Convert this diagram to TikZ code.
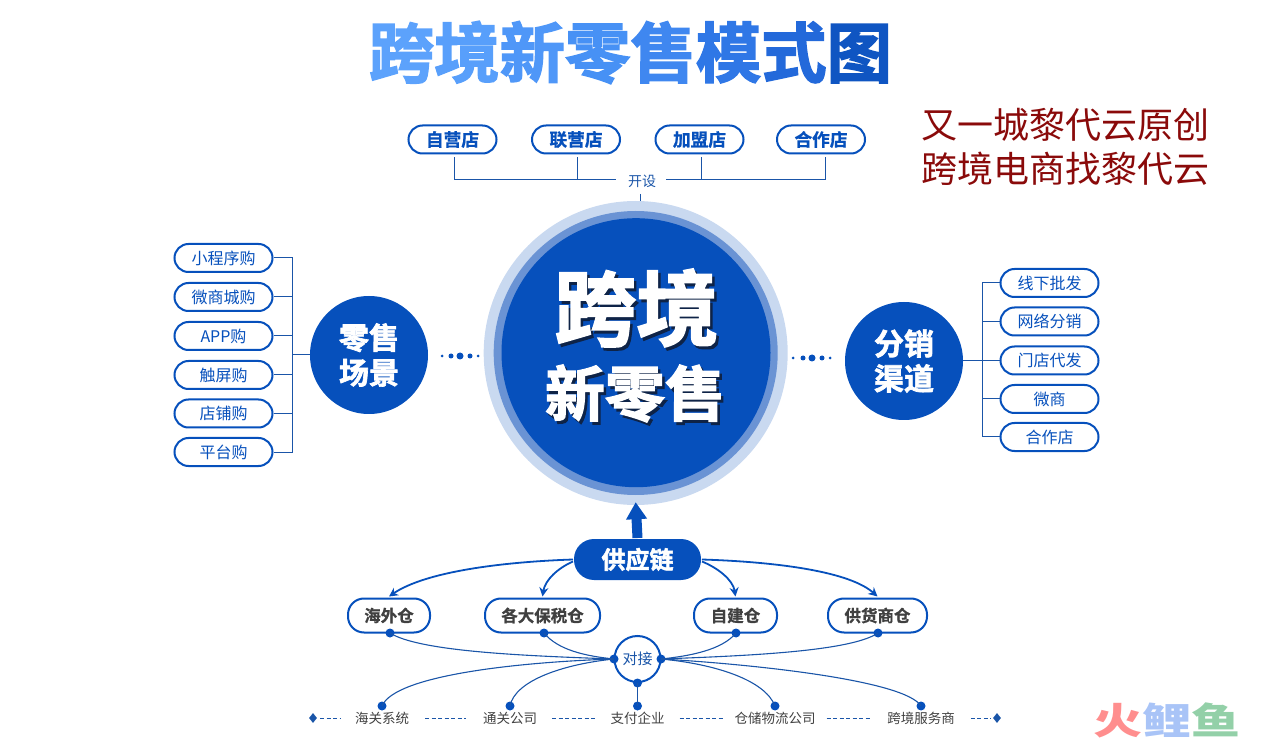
\documentclass[tikz,border=0pt]{standalone}
\usepackage{fontspec}
\usetikzlibrary{arrows.meta,shapes.geometric}
\setmainfont{Noto Sans CJK SC}
\newfontfamily\heavycjk[FakeBold=2.2]{Noto Sans CJK SC Bold}
\newfontfamily\midcjk[FakeBold=0.8]{Noto Sans CJK SC Bold}
\newcommand{\fs}[1]{\fontsize{#1pt}{#1pt}\selectfont}
\newcommand{\shadowed}[1]{\makebox[0pt][l]{\raisebox{-3pt}{\hspace{2.5pt}\textcolor{shadowc}{#1}}}#1}
\definecolor{mainblue}{HTML}{0650BC}
\definecolor{linkblue}{HTML}{1A55A8}
\definecolor{ringlight}{HTML}{C9D9F0}
\definecolor{ringmid}{HTML}{6A93D4}
\definecolor{redbrown}{HTML}{8A0A0A}
\definecolor{dark}{HTML}{404040}
\definecolor{shadowc}{HTML}{0E2347}
\definecolor{ta}{HTML}{5CA2FC}
\definecolor{tb}{HTML}{589FFB}
\definecolor{tc}{HTML}{4F97F8}
\definecolor{td}{HTML}{4791F5}
\definecolor{te}{HTML}{3F87F0}
\definecolor{tf}{HTML}{2F77E6}
\definecolor{tg}{HTML}{2369DA}
\definecolor{th}{HTML}{0F55C2}
\tikzset{
  pill/.style={draw=mainblue,line width=2pt,fill=white,rounded corners=14pt,inner sep=0pt,minimum height=28pt,text=mainblue,font=\fs{16}},
  toppill/.style={pill,minimum width=88pt,font=\fs{17.7}\midcjk},
  sidepill/.style={pill,minimum width=98pt},
  lowpill/.style={pill,rounded corners=16pt,minimum height=34pt,text=dark,font=\fs{16.5}\midcjk},
  hub/.style={circle,fill=mainblue,text=white,inner sep=0pt,minimum size=118pt,align=center,font=\fs{30}\heavycjk},
  conn/.style={draw=linkblue,line width=1pt},
  curve/.style={draw=mainblue,line width=1.8pt,-{Stealth[length=9pt,width=9pt]}},
  thinlink/.style={draw=linkblue,line width=1.1pt},
  dotn/.style={circle,fill=mainblue,inner sep=0pt,minimum size=#1},
  dotn/.default=9pt,
  lab/.style={text=dark,font=\fs{13.5},inner sep=0pt},
  dashseg/.style={draw=linkblue,line width=1pt,dash pattern=on 4pt off 2.5pt},
  diam/.style={diamond,fill=linkblue,inner sep=0pt,minimum width=8pt,minimum height=10pt},
}
\begin{document}
\begin{tikzpicture}[x=1pt,y=-1pt]
\useasboundingbox (0,0) rectangle (1262,743);
% title
\node[inner sep=0pt,font=\fs{65.4}\heavycjk] (title) at (630.5,52.5)
  {\textcolor{ta}{跨}\textcolor{tb}{境}\textcolor{tc}{新}\textcolor{td}{零}\textcolor{te}{售}\textcolor{tf}{模}\textcolor{tg}{式}\textcolor{th}{图}};
% credit
\node[inner sep=0pt,text=redbrown,font=\fs{36}] (credA) at (1065,125) {又一城黎代云原创};
\node[inner sep=0pt,text=redbrown,font=\fs{36}] (credB) at (1065,169) {跨境电商找黎代云};
% centre
\node[circle,fill=ringlight,inner sep=0pt,minimum size=304pt] (ringA) at (635.7,353) {};
\node[circle,fill=ringmid,inner sep=0pt,minimum size=284pt] (ringB) at (635.7,353) {};
\node[circle,fill=mainblue,inner sep=0pt,minimum size=269pt] (core) at (636,352.7) {};
\node[inner sep=0pt,text=white,font=\fs{82}\heavycjk] (coreA) at (636.5,309.5) {\shadowed{跨境}};
\node[inner sep=0pt,text=white,font=\fs{60}\heavycjk] (coreB) at (635,395) {\shadowed{新零售}};
% top row
\node[toppill] (s1) at (452.5,139.5) {自营店};
\node[toppill] (s2) at (576,139.5) {联营店};
\node[toppill] (s3) at (699.5,139.5) {加盟店};
\node[toppill] (s4) at (821,139.5) {合作店};
\node[inner sep=0pt,text=linkblue,font=\fs{14}] (open) at (642,181) {开设};
\coordinate (openL) at (616,179.5);
\coordinate (openR) at (666,179.5);
\coordinate (tickT) at (640,194);
\coordinate (tickB) at (640,201);
\draw[conn] ([xshift=2pt,yshift=-3pt]s1.south) |- (openL);
\draw[conn] ([xshift=1pt,yshift=-3pt]s2.south) -- ([xshift=1pt]s2.south |- openL);
\draw[conn] ([xshift=4pt,yshift=-3pt]s4.south) |- (openR);
\draw[conn] ([xshift=1.5pt,yshift=-3pt]s3.south) -- ([xshift=1.5pt]s3.south |- openR);
\draw[conn] (tickT) -- (tickB);
% left
\node[hub] (retail) at (369,355) {零售\\[5pt]场景};
\node[sidepill] (l1) at (223.5,258) {小程序购};
\node[sidepill] (l2) at (223.5,297) {微商城购};
\node[sidepill] (l3) at (223.5,336) {APP购};
\node[sidepill] (l4) at (223.5,375) {触屏购};
\node[sidepill] (l5) at (223.5,413.5) {店铺购};
\node[sidepill] (l6) at (223.5,452) {平台购};
\coordinate (lbus) at (292,355);
\draw[conn] (retail.west) -- (lbus);
\foreach \n in {l1,l2,l3,l4,l5,l6} \draw[conn] (\n.east) -| (lbus);
\foreach \i/\x/\s in {a/442/3pt,b/451/5pt,c/460/7pt,d/470/5pt,e/478/3pt}
  \node[dotn=\s] (ld\i) at (\x,356) {};
% right
\node[hub] (channel) at (904,361) {分销\\[5pt]渠道};
\node[sidepill] (r1) at (1049.5,283) {线下批发};
\node[sidepill] (r2) at (1049.5,321.5) {网络分销};
\node[sidepill] (r3) at (1049.5,360.5) {门店代发};
\node[sidepill] (r4) at (1049.5,399) {微商};
\node[sidepill] (r5) at (1049.5,437) {合作店};
\coordinate (rbus) at (982,361);
\draw[conn] (channel.east) -- (rbus);
\foreach \n in {r1,r2,r3,r4,r5} \draw[conn] (\n.west) -| (rbus);
\foreach \i/\x/\s in {a/793/3pt,b/803/5pt,c/812/7pt,d/822/5pt,e/830/3pt}
  \node[dotn=\s] (rd\i) at (\x,358) {};
% supply chain
\node[pill,fill=mainblue,text=white,minimum width=127pt,minimum height=41pt,rounded corners=20pt,draw=none,font=\fs{24}\heavycjk] (chain) at (637.5,559.5) {供应链};
\draw[mainblue,line width=10pt,-{Triangle[length=17pt,width=20pt]}] (chain.north) -- ([yshift=3pt]ringA.south);
\node[lowpill,minimum width=82pt] (w1) at (389,615.5) {海外仓};
\node[lowpill,minimum width=115pt] (w2) at (542.5,615.5) {各大保税仓};
\node[lowpill,minimum width=83pt] (w3) at (735.5,615.5) {自建仓};
\node[lowpill,minimum width=99pt] (w4) at (877.5,615.5) {供货商仓};
\draw[curve] (chain.west) .. controls (500,562) and (425,572) .. ([yshift=1pt]w1.north);
\draw[curve] ([yshift=-2pt]chain.west) .. controls (558,568) and (545,580) .. ([yshift=1pt]w2.north);
\draw[curve] ([yshift=-2pt]chain.east) .. controls (718,568) and (733,580) .. ([yshift=1pt]w3.north);
\draw[curve] (chain.east) .. controls (780,562) and (850,572) .. ([yshift=1pt]w4.north);
% link hub
\node[circle,draw=mainblue,line width=2pt,fill=white,inner sep=0pt,minimum size=46pt,text=linkblue,font=\fs{15}] (dock) at (637.5,659) {对接};
\node[dotn] (dL) at (614,659) {};
\node[dotn] (dR) at (661,659) {};
\node[dotn] (dB) at (637.5,683) {};
\node[dotn] (u1) at (390,633) {};
\node[dotn] (u2) at (544,633) {};
\node[dotn] (u3) at (736,633) {};
\node[dotn] (u4) at (878,633) {};
\node[dotn] (b1) at (382,706) {};
\node[dotn] (b2) at (510,706) {};
\node[dotn] (b3) at (637.5,706) {};
\node[dotn] (b4) at (775,706) {};
\node[dotn] (b5) at (921,706) {};
\draw[thinlink] (u1.center) .. controls (420,652) and (530,656) .. (dL.center);
\draw[thinlink] (u2.center) .. controls (558,650) and (585,656) .. (dL.center);
\draw[thinlink] (u3.center) .. controls (722,650) and (690,656) .. (dR.center);
\draw[thinlink] (u4.center) .. controls (850,652) and (740,656) .. (dR.center);
\draw[thinlink] (b1.center) .. controls (395,675) and (520,662) .. (dL.center);
\draw[thinlink] (b2.center) .. controls (515,680) and (565,664) .. (dL.center);
\draw[thinlink] (b3.center) -- (dB.center);
\draw[thinlink] (b4.center) .. controls (765,680) and (715,664) .. (dR.center);
\draw[thinlink] (b5.center) .. controls (905,680) and (750,664) .. (dR.center);
% bottom labels
\node[lab] (t1) at (382,718) {海关系统};
\node[lab] (t2) at (510,718) {通关公司};
\node[lab] (t3) at (637.5,718) {支付企业};
\node[lab] (t4) at (775,718) {仓储物流公司};
\node[lab] (t5) at (921,718) {跨境服务商};
\node[diam] (dmL) at (313,718) {};
\node[diam] (dmR) at (997,718) {};
\draw[dashseg] ([xshift=3pt]dmL.east) -- ([xshift=-14pt]t1.west);
\draw[dashseg] ([xshift=16pt]t1.east) -- ([xshift=-17pt]t2.west);
\draw[dashseg] ([xshift=15pt]t2.east) -- ([xshift=-14pt]t3.west);
\draw[dashseg] ([xshift=15pt]t3.east) -- ([xshift=-10pt]t4.west);
\draw[dashseg] ([xshift=11pt]t4.east) -- ([xshift=-17pt]t5.west);
\draw[dashseg] ([xshift=16pt]t5.east) -- ([xshift=-2pt]dmR.west);
% watermark
\node[inner sep=0pt,font=\fs{49}\bfseries] (mark) at (1167,720) {\scalebox{1}[0.75]{\textcolor[HTML]{FF8E8E}{火}\textcolor[HTML]{A9C4F7}{鲤}\textcolor[HTML]{93D0A8}{鱼}}};
\end{tikzpicture}
\end{document}
